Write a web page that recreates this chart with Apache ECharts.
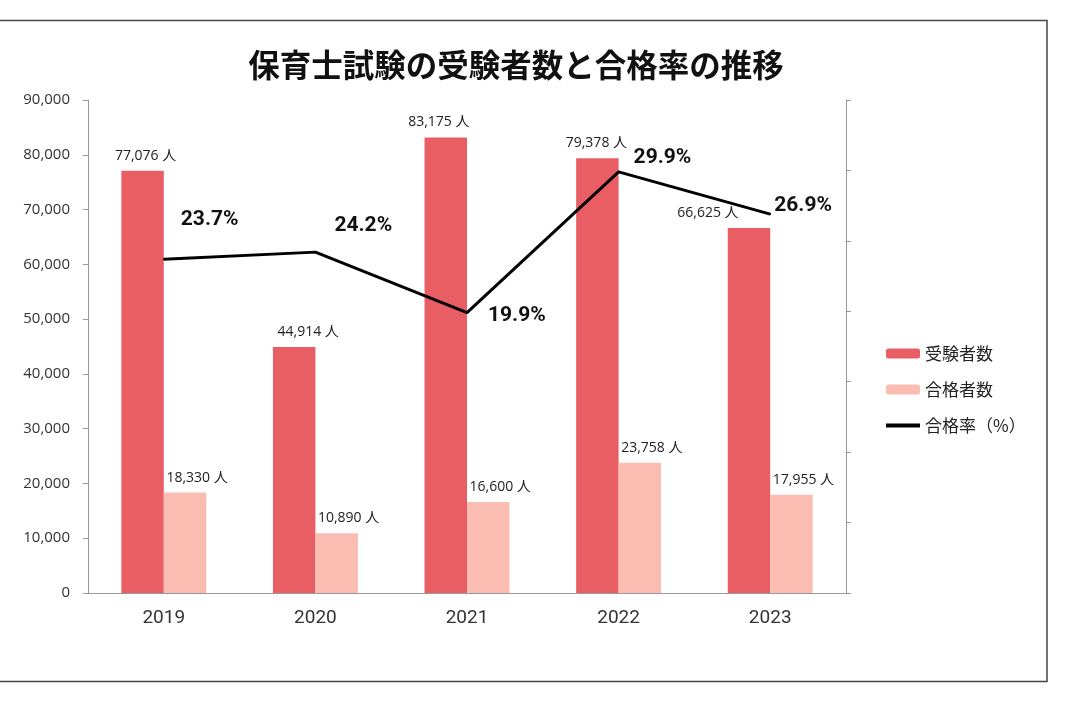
<!DOCTYPE html>
<html>
<head>
<meta charset="utf-8">
<script src="https://cdn.jsdelivr.net/npm/echarts@6/dist/echarts.min.js"></script>
<style>
  html, body { margin: 0; padding: 0; background: #fff; }
  #main { width: 1080px; height: 720px; }
</style>
</head>
<body>
<div id="main"></div>
<script>
// データ
var years = ['2019', '2020', '2021', '2022', '2023'];
var examinees = [77076, 44914, 83175, 79378, 66625];   // 受験者数
var passers = [18330, 10890, 16600, 23758, 17955];     // 合格者数
var passRate = [23.7, 24.2, 19.9, 29.9, 26.9];         // 合格率（%）

// ラベルの微調整（見た目用）
var examineeLabelShift = [3, 14, -7, -1, -41];
var rateLabelShift = [[0, -39], [2, -26], [4, 3], [-2, -14], [-13, -8]];

var cjk = '"Noto Sans CJK JP", "Noto Sans", sans-serif';
var num = '"Open Sans", "Noto Sans CJK JP", sans-serif';

var chart = echarts.init(document.getElementById('main'));

function personLabel(p) {
  return p.value.toLocaleString('en-US') + ' 人';
}

var option = {
  backgroundColor: '#fff',
  textStyle: { fontFamily: cjk },
  title: {
    text: '保育士試験の受験者数と合格率の推移',
    left: 511,
    top: 44,
    textAlign: 'center',
    textStyle: { fontSize: 31.5, fontWeight: 'bold', color: '#111', fontFamily: cjk }
  },
  graphic: [{
    type: 'rect',
    shape: { x: -5, y: 20.5, width: 1052, height: 661 },
    style: { fill: 'none', stroke: '#444', lineWidth: 1.5 },
    silent: true
  }],
  legend: {
    orient: 'vertical',
    left: 884,
    top: 345,
    padding: 0,
    itemWidth: 34,
    itemHeight: 10,
    itemGap: 19,
    textStyle: { fontSize: 17, color: '#222', fontFamily: cjk },
    data: [
      '受験者数',
      '合格者数',
      { name: '合格率（%）', itemStyle: { opacity: 0 }, lineStyle: { width: 4 } }
    ]
  },
  grid: { left: 88, right: 234, top: 100, bottom: 127 },
  xAxis: {
    type: 'category',
    data: years,
    axisLine: { lineStyle: { color: '#999' } },
    axisTick: { length: 5, lineStyle: { color: '#999' } },
    axisLabel: { fontSize: 19, color: '#333', margin: 16, fontFamily: 'Roboto' }
  },
  yAxis: [
    {
      type: 'value',
      min: 0,
      max: 90000,
      interval: 10000,
      axisLine: { show: true, lineStyle: { color: '#999' } },
      axisTick: { show: true, length: 5, lineStyle: { color: '#999' } },
      splitLine: { show: false },
      axisLabel: {
        fontSize: 15,
        color: '#333',
        margin: 18,
        fontFamily: num,
        formatter: function (v) { return v.toLocaleString('en-US'); }
      }
    },
    {
      type: 'value',
      min: 0,
      max: 35,
      interval: 5,
      axisLine: { show: true, lineStyle: { color: '#999' } },
      axisTick: { show: true, length: 5, lineStyle: { color: '#999' } },
      splitLine: { show: false },
      axisLabel: { show: false }
    }
  ],
  series: [
    {
      name: '受験者数',
      type: 'bar',
      barGap: '0%',
      barCategoryGap: '44%',
      itemStyle: { color: '#E95D65' },
      data: examinees.map(function (v, i) {
        return { value: v, label: { offset: [examineeLabelShift[i], 0] } };
      }),
      label: {
        show: true,
        position: 'top',
        distance: 8,
        fontSize: 14,
        color: '#222',
        fontFamily: num,
        formatter: personLabel
      }
    },
    {
      name: '合格者数',
      type: 'bar',
      itemStyle: { color: '#FBBDB2' },
      data: passers,
      label: {
        show: true,
        position: 'top',
        distance: 8,
        offset: [12, 0],
        fontSize: 14,
        color: '#222',
        fontFamily: num,
        formatter: personLabel
      }
    },
    {
      name: '合格率（%）',
      type: 'line',
      yAxisIndex: 1,
      symbol: 'circle',
      symbolSize: 2,
      showSymbol: true,
      lineStyle: { color: '#000', width: 3 },
      itemStyle: { color: '#000' },
      data: passRate.map(function (v, i) {
        return { value: v, label: { offset: rateLabelShift[i] } };
      }),
      label: {
        show: true,
        position: 'right',
        distance: 16,
        fontSize: 21,
        fontWeight: 'bold',
        color: '#111',
        fontFamily: 'Roboto',
        formatter: function (p) { return p.value.toFixed(1) + '%'; }
      }
    }
  ]
};

chart.setOption(option);
</script>
</body>
</html>
